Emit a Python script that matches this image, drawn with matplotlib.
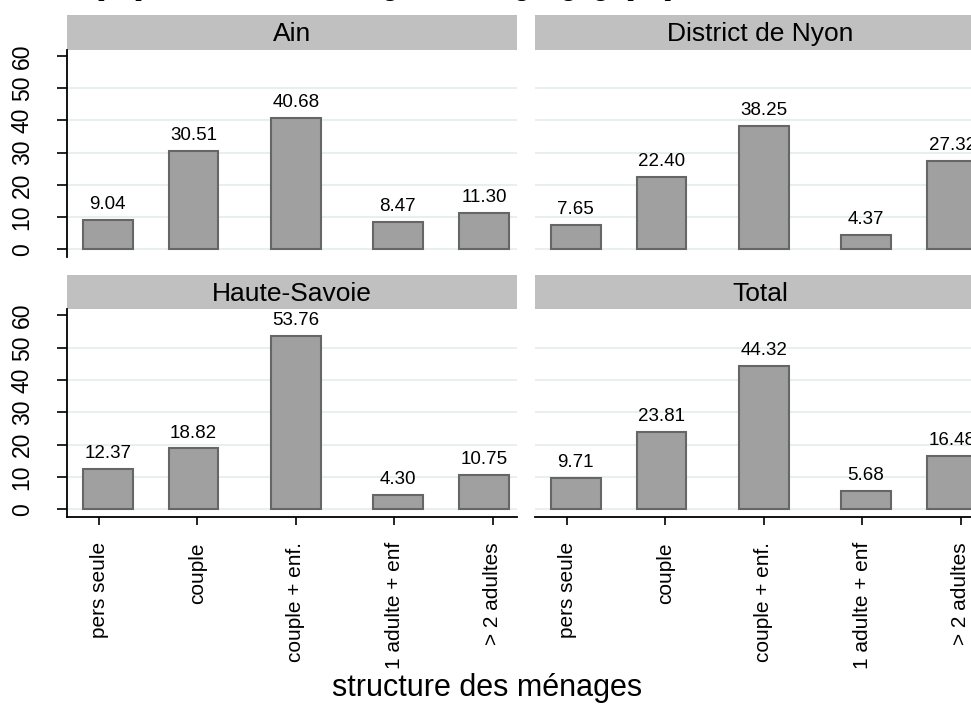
import numpy as np
import matplotlib
matplotlib.use("Agg")
import matplotlib.pyplot as plt

plt.rcParams['font.family'] = ['Liberation Sans', 'DejaVu Sans']

categories = ["pers seule", "couple", "couple + enf.", "1 adulte + enf", "> 2 adultes"]
panels = ["Ain", "District de Nyon", "Haute-Savoie", "Total"]
ain = [9.04, 30.51, 40.68, 8.47, 11.30]
nyon = [7.65, 22.40, 38.25, 4.37, 27.32]
haute_savoie = [12.37, 18.82, 53.76, 4.30, 10.75]
total = [9.71, 23.81, 44.32, 5.68, 16.48]
yticks = [0, 10, 20, 30, 40, 50, 60]
xtitle = "structure des ménages"

W, H = 971, 720
BAR = "#a0a0a0"
EDGE = "#666666"
GRID = "#e6eef0"
STRIP = "#c0c0c0"

# small offsets of bars relative to their tick, as in the original layout
bar_shift = [0.09, -0.04, 0.0, 0.035, -0.09]


def px_axes(fig, x0, y0, x1, y1):
    return fig.add_axes([x0 / W, 1 - y1 / H, (x1 - x0) / W, (y1 - y0) / H])


fig = plt.figure(figsize=(W / 100, H / 100), dpi=100)

# title of the page, cut off at the top in the original
fig.text(60 / W, 1 + 4 / H, "Graphique 7 : Structure des ménages selon la région géographique, en %",
         family="Liberation Serif", weight="bold", fontsize=16, va="baseline", ha="left")

cols = [(67, 517), (535, 985)]
rows = [(15, 49.5, 257), (275, 309, 517)]
values = [ain, nyon, haute_savoie, total]

for k, (name, vals) in enumerate(zip(panels, values)):
    r, c = divmod(k, 2)
    x0, x1 = cols[c]
    s0, y0, y1 = rows[r]

    strip = px_axes(fig, x0, s0, x1, y0)
    strip.set_facecolor(STRIP)
    strip.set_xticks([])
    strip.set_yticks([])
    for sp in strip.spines.values():
        sp.set_visible(False)
    strip.text(0.5, 0.45, name, ha="center", va="center", fontsize=19, transform=strip.transAxes)

    ax = px_axes(fig, x0, y0, x1, y1)
    pos = np.arange(len(categories))
    for y in yticks[:-1]:
        ax.axhline(y, color=GRID, lw=1.3, zorder=0)
    ax.bar(pos + np.array(bar_shift), vals, width=0.505, color=BAR, edgecolor=EDGE, linewidth=1.5, zorder=2)
    for xp, v in zip(pos + np.array(bar_shift), vals):
        ax.annotate(f"{v:.2f}", (xp, v), xytext=(0, 5), textcoords="offset points",
                    ha="center", va="bottom", fontsize=13.5)
    ax.set_xlim(-0.325, 4.244)
    ax.set_ylim(-2.4, 62)

    for sp in ["top", "right"]:
        ax.spines[sp].set_visible(False)
    ax.spines["left"].set_visible(c == 0)
    ax.spines["bottom"].set_visible(r == 1)
    ax.spines["left"].set_linewidth(1.3)
    ax.spines["bottom"].set_linewidth(1.3)

    if c == 0:
        ax.set_yticks(yticks)
        ax.set_yticklabels([str(t) for t in yticks], rotation=90, va="center", fontsize=16.5)
        ax.tick_params(axis="y", length=7, width=1.2, pad=17)
    else:
        ax.set_yticks([])

    if r == 1:
        ax.set_xticks(pos)
        ax.set_xticklabels(categories, rotation=90, fontsize=15, va="top")
        ax.tick_params(axis="x", length=6, width=1.2, pad=12)
    else:
        ax.set_xticks([])

fig.text(487 / W, 1 - 688 / H, xtitle, ha="center", va="center", fontsize=22)

fig.savefig("out.png", dpi=100)
